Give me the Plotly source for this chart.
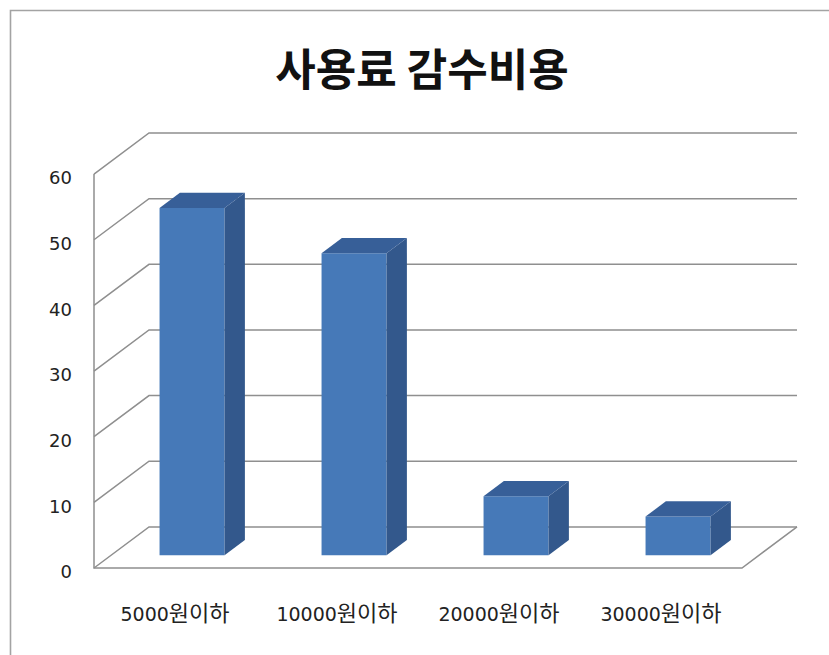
import re
import plotly.graph_objects as go

title = "사용료 감수비용"
categories = ["5000원이하", "10000원이하", "20000원이하", "30000원이하"]
values = [52.9, 46, 9, 5.9]
y_ticks = [0, 10, 20, 30, 40, 50, 60]

FONT = "DejaVu Sans, Noto Sans CJK KR, sans-serif"
TITLE_FONT = "Noto Sans CJK KR, sans-serif"
W, H = 829, 655
L, R, T, B = 92, 30, 131, 85          # plot margins
PX_X, PX_Y = 162.0, 6.55              # pixels per category / per value unit
DEPTH_X, DEPTH_Y = 55 / PX_X, 41 / PX_Y
BAR_W = 65 / PX_X
NEAR, FAR = 0.31, 0.68                # bar front/back as a fraction of the depth
LABEL_DROP = 4 / PX_Y                 # reference value labels sit a little under their level

x_range = [-(2 / PX_X), 4 + DEPTH_X + 2 / PX_X]
y_range = [-(2 / PX_Y) - LABEL_DROP, 60 + DEPTH_Y + 2 / PX_Y]

FRONT, SIDE, TOP = "#4679b8", "#33588c", "#375f98"
GRID = "#8f8f8f"

shapes = []
def line(path, color=GRID, width=1.5):
    shapes.append(dict(type="path", path=path, xref="x", yref="y", layer="below",
                       line=dict(color=color, width=width)))

for v in y_ticks:
    line(f"M 0 {v} L {DEPTH_X} {v + DEPTH_Y} L {4 + DEPTH_X} {v + DEPTH_Y}")
line(f"M 0 60 L 0 0 L 4 0 L {4 + DEPTH_X} {DEPTH_Y}")

# chart-area border, running off the right and bottom of the picture
B_ADJ = B - 4
plot_h = H - T - B_ADJ
shapes.append(dict(type="rect", xref="paper", yref="paper", layer="below",
                   x0=(10.5 - L) / (W - L - R), x1=(W + 5 - L) / (W - L - R),
                   y0=(H - B_ADJ - (H + 5)) / plot_h, y1=(H - B_ADJ - 10.5) / plot_h,
                   line=dict(color="#a3a3a3", width=1.6)))

fig = go.Figure()
near_y = NEAR * DEPTH_Y
near_x = NEAR * DEPTH_X
far_x = FAR * DEPTH_X
far_y = FAR * DEPTH_Y
centers = [i + 0.5 + near_x for i in range(len(values))]

fig.add_trace(go.Bar(x=centers, y=values, base=near_y, width=BAR_W,
                     marker=dict(color=FRONT, line=dict(width=0)),
                     hoverinfo="skip", showlegend=False))

back = far_x - near_x
rise = far_y - near_y
for c, v in zip(centers, values):
    xl, xr = c - BAR_W / 2, c + BAR_W / 2
    yb, yt = near_y, near_y + v
    fig.add_trace(go.Scatter(
        x=[xr, xr + back, xr + back, xr, xr], y=[yb, yb + rise, yt + rise, yt, yb],
        mode="lines", fill="toself", fillcolor=SIDE, line=dict(width=0),
        hoverinfo="skip", showlegend=False))
    fig.add_trace(go.Scatter(
        x=[xl, xr, xr + back, xl + back, xl], y=[yt, yt, yt + rise, yt + rise, yt],
        mode="lines", fill="toself", fillcolor=TOP, line=dict(width=0),
        hoverinfo="skip", showlegend=False))

def tick_label(text):
    # the hangul in the reference is set noticeably larger than the digits
    return re.sub(r"([^0-9]+)", r'<span style="font-size:22px">\1</span>', text)

fig.update_layout(
    width=W, height=H, margin=dict(l=L, r=R, t=T, b=B_ADJ, pad=0),
    paper_bgcolor="white", plot_bgcolor="rgba(0,0,0,0)", shapes=shapes, showlegend=False,
    font=dict(family=FONT, color="#222222"),
    title=dict(text=f"<b>{title}</b>", x=422 / W, xanchor="center", xref="container",
               y=1 - 71 / H, yanchor="middle", yref="container",
               font=dict(size=44, color="#111111", family=TITLE_FONT)),
    xaxis=dict(range=x_range, showgrid=False, zeroline=False, showline=False,
               tickmode="array", tickvals=[i + 0.5 for i in range(len(categories))],
               ticktext=[tick_label(c) for c in categories], ticks="", ticklabelstandoff=27,
               tickfont=dict(size=19, color="#222222", family=FONT)),
    yaxis=dict(range=y_range, showgrid=False, zeroline=False, showline=False,
               tickmode="array", tickvals=[v - LABEL_DROP for v in y_ticks],
               ticktext=[str(v) for v in y_ticks], ticks="", ticklabelstandoff=19,
               tickfont=dict(size=18, color="#222222", family=FONT)),
)

fig.write_html("out.html", config={"displayModeBar": False},
               post_script="document.body.style.margin='0';document.body.style.overflow='hidden';")
